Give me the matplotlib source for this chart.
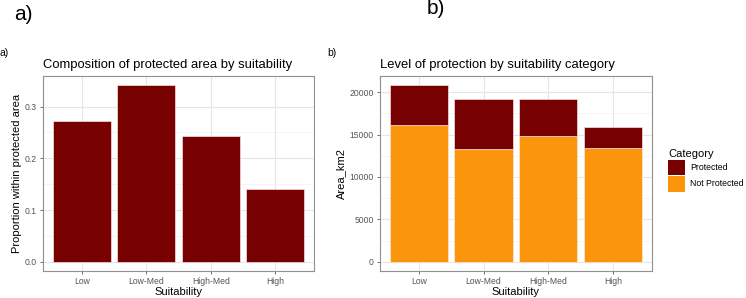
import matplotlib
matplotlib.use("Agg")
import matplotlib.pyplot as plt
from matplotlib.patches import Patch
import numpy as np

plt.rcParams['font.family'] = ['Liberation Sans', 'DejaVu Sans']

categories = ["Low", "Low-Med", "High-Med", "High"]
proportion = [0.273, 0.342, 0.244, 0.140]
not_protected = [16170, 13240, 14880, 13440]
protected = [4685, 5895, 4255, 2415]

DARKRED = "#770000"
ORANGE = "#fb950c"
W, H = 746, 298

fig = plt.figure(figsize=(W / 100, H / 100), dpi=100)

def pax(l, t, r, b):
    return fig.add_axes([l / W, 1 - b / H, (r - l) / W, (b - t) / H])

def style(ax, yticks, yminor):
    ax.set_facecolor("white")
    for s in ax.spines.values():
        s.set_color("#909090")
        s.set_linewidth(0.8)
    ax.set_axisbelow(True)
    ax.set_yticks(yticks)
    ax.set_yticks(yminor, minor=True)
    ax.grid(True, which="major", color="#e6e6e6", lw=0.8)
    ax.grid(True, which="minor", axis="y", color="#f2f2f2", lw=0.5)
    ax.tick_params(axis="both", which="major", labelsize=6.2, labelcolor="#555555",
                   color="#555555", length=2.5, width=0.6, pad=2)
    ax.tick_params(axis="both", which="minor", length=0)
    x = np.arange(len(categories))
    ax.set_xticks(x)
    ax.set_xticklabels(categories)
    ax.set_xlim(-0.6, len(categories) - 0.4)

x = np.arange(len(categories))

# Panel a
ax1 = pax(43, 76, 314, 270.7)
ax1.bar(x, proportion, width=0.9, color=DARKRED, edgecolor="#f4e0e0", linewidth=0.5)
ymax = max(proportion)
ax1.set_ylim(-0.05 * ymax, 1.05 * ymax)
style(ax1, [0.0, 0.1, 0.2, 0.3], [0.05, 0.15, 0.25])
ax1.set_yticklabels(["0.0", "0.1", "0.2", "0.3"])
ax1.set_xlabel("Suitability", fontsize=8, labelpad=0.5)
ax1.set_ylabel("Proportion within protected area", fontsize=8, labelpad=2)
ax1.set_title("Composition of protected area by suitability", fontsize=9.4, loc="left", pad=6)

# Panel b
ax2 = pax(380, 76, 651.7, 270.7)
ax2.bar(x, not_protected, width=0.9, color=ORANGE, edgecolor="#fde8d0", linewidth=0.5)
ax2.bar(x, protected, bottom=not_protected, width=0.9, color=DARKRED,
        edgecolor="#f4e0e0", linewidth=0.5)
tot = max(np.array(not_protected) + np.array(protected))
ax2.set_ylim(-0.05 * tot, 1.05 * tot)
style(ax2, [0, 5000, 10000, 15000, 20000], [2500, 7500, 12500, 17500])
ax2.set_xlabel("Suitability", fontsize=8, labelpad=0.5)
ax2.set_ylabel("Area_km2", fontsize=8, labelpad=2)
ax2.set_title("Level of protection by suitability category", fontsize=9.4, loc="left", pad=6)

handles = [Patch(facecolor=DARKRED, edgecolor="none"), Patch(facecolor=ORANGE, edgecolor="none")]
leg = fig.legend(handles, ["Protected", "Not Protected"], title="Category",
                 loc="upper left", bbox_to_anchor=(662 / W, 1 - 143 / H),
                 frameon=False, fontsize=6.3, title_fontsize=8,
                 handlelength=1.95, handleheight=2.4, labelspacing=0.05,
                 handletextpad=0.6, borderpad=0.2)
leg._legend_box.align = "left"

# panel labels
fig.text(14 / W, 1 - 15 / H, "a)", fontsize=15, va="center", ha="left")
fig.text(427 / W, 1 - 9 / H, "b)", fontsize=15, va="center", ha="left")
fig.text(0 / W, 1 - 53 / H, "a)", fontsize=7.5, va="center", ha="left")
fig.text(327 / W, 1 - 53 / H, "b)", fontsize=7.5, va="center", ha="left")

fig.savefig("out.png", dpi=100, facecolor="white")
